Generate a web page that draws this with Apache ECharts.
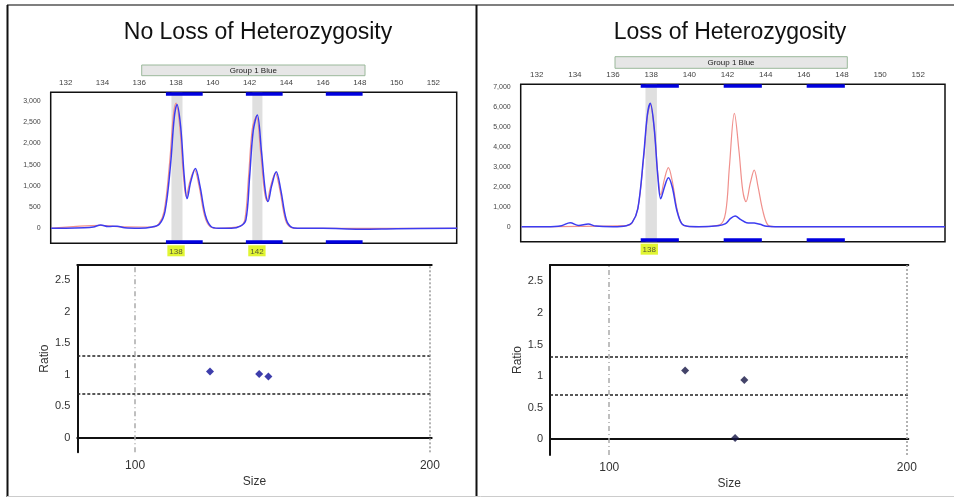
<!DOCTYPE html>
<html><head><meta charset="utf-8">
<script src="https://cdn.jsdelivr.net/npm/echarts@6/dist/echarts.min.js"></script>
<style>html,body{margin:0;padding:0;background:#fff}#c{width:954px;height:500px}</style>
</head><body><div id="c"></div>
<script>
// ---------- data ----------
const traceTicks = [132, 134, 136, 138, 140, 142, 144, 146, 148, 150, 152];
const leftYTicks = [0, 500, 1000, 1500, 2000, 2500, 3000];
const rightYTicks = [0, 1000, 2000, 3000, 4000, 5000, 6000, 7000];

const leftBlue = [[131.2,0],[132,0],[133,10],[133.5,30],[133.9,80],[134.3,40],[134.8,50],[135.2,10],[136,0],[136.7,30],[137.1,100],[137.4,400],[137.7,1500],[137.9,2600],[138.05,2920],[138.25,2400],[138.45,1200],[138.6,700],[138.8,1100],[139.05,1410],[139.3,1000],[139.6,300],[139.9,40],[140.3,0],[141,0],[141.5,50],[141.8,200],[142.0,1200],[142.2,2300],[142.42,2670],[142.65,1800],[142.85,900],[143.0,630],[143.2,1000],[143.45,1330],[143.7,900],[144.0,200],[144.3,20],[144.6,0],[146,0],[148,-20],[150,-10],[153.3,0]];
const leftRed = [[131.2,0],[133.9,70],[134.8,40],[136.7,30],[137.05,100],[137.35,400],[137.65,1550],[137.85,2650],[138.0,2950],[138.2,2400],[138.4,1250],[138.55,750],[138.75,1100],[139.0,1380],[139.25,1000],[139.55,300],[139.85,40],[140.3,0],[141.5,50],[141.75,220],[141.95,1250],[142.15,2350],[142.37,2640],[142.6,1800],[142.8,900],[142.95,650],[143.15,1000],[143.4,1300],[143.65,900],[143.95,200],[144.25,20],[144.6,0],[153.3,0]];
const rightBlue = [[131.2,0],[132.5,0],[133.3,50],[133.75,200],[134.2,60],[134.7,130],[135.1,30],[136,0],[136.7,50],[137.0,200],[137.3,900],[137.6,3500],[137.8,5600],[137.95,6170],[138.15,5000],[138.35,2500],[138.5,1400],[138.7,2000],[138.9,2450],[139.1,2000],[139.35,800],[139.6,150],[139.9,20],[140.5,0],[141.5,50],[141.9,150],[142.15,400],[142.4,530],[142.7,350],[143.0,200],[143.4,180],[143.7,120],[144.05,20],[144.5,0],[153.4,0]];
const rightRed = [[131.2,0],[136.7,50],[137.0,200],[137.3,900],[137.6,3400],[137.8,5500],[137.95,6100],[138.15,5000],[138.35,2600],[138.5,1600],[138.7,2400],[138.9,2950],[139.1,2300],[139.35,900],[139.6,150],[139.9,20],[140.5,0],[141.6,100],[141.9,700],[142.1,3000],[142.36,5670],[142.6,3800],[142.8,1800],[142.97,1250],[143.2,2200],[143.4,2830],[143.6,2000],[143.85,800],[144.1,100],[144.4,0],[153.4,0]];

const binRanges = [[137.45,139.45],[141.8,143.8],[146.15,148.15]];
const leftPeakBands = [[137.75,138.35],[142.15,142.7]];
const rightPeakBands = [[137.7,138.3]];
const leftAlleleLabels = [[138.0,'138'],[142.4,'142']];
const rightAlleleLabels = [[137.9,'138']];

const ratioTicks = [0, 0.5, 1, 1.5, 2, 2.5];
const sizeTicks = [100, 200];
const ratioBounds = [0.7, 1.3];
const sizeGuides = [100, 200];
const leftRatio = [[125.4,1.05],[142.1,1.01],[145.2,0.97]];
const rightRatio = [[125.5,1.09],[142.3,0.02],[145.4,0.94]];

// ---------- chart ----------
const chart = echarts.init(document.getElementById('c'), null, {renderer:'canvas'});
const FONT = 'Liberation Sans, Arial, sans-serif';

const grids = [
  {left:50.7, top:92.3, width:406, height:151},
  {left:520.7, top:84.3, width:424.3, height:157.4},
  {left:77.3, top:265, width:354.4, height:187.3},
  {left:550, top:265, width:358.3, height:190}
];
const traceX = [[131.18,153.27],[131.16,153.4]];
const traceY = [[-354,3205],[-750,7120]];
const ratioX = [[80.4,200.6],[80.1,200.5]];
const ratioY = [[-0.23,2.74],[-0.25,2.76]];

const xAxes = [], yAxes = [], series = [];
[0,1].forEach(i => {
  xAxes.push({gridIndex:i, type:'value', position:'top', min:traceX[i][0], max:traceX[i][1],
    axisLine:{show:false}, axisTick:{show:false}, splitLine:{show:false},
    axisLabel:{customValues:traceTicks, fontSize:8, color:'#444', margin:6, fontFamily:FONT}});
  yAxes.push({gridIndex:i, type:'value', min:traceY[i][0], max:traceY[i][1],
    axisLine:{show:false}, axisTick:{show:false}, splitLine:{show:false},
    axisLabel:{customValues: i===0?leftYTicks:rightYTicks, fontSize:7, color:'#444', margin:10, fontFamily:FONT,
      formatter:v=>v.toLocaleString('en-US')}});
});
[2,3].forEach(i => {
  const k=i-2;
  xAxes.push({gridIndex:i, type:'value', min:ratioX[k][0], max:ratioX[k][1], name:'Size',
    nameLocation:'middle', nameGap:23, nameTextStyle:{fontSize:12, color:'#333', fontFamily:FONT},
    axisLine:{show:true, lineStyle:{color:'#111', width:2}}, axisTick:{show:false}, splitLine:{show:false},
    axisLabel:{customValues:sizeTicks, fontSize:12, color:'#333', margin:7, fontFamily:FONT}});
  yAxes.push({gridIndex:i, type:'value', min:ratioY[k][0], max:ratioY[k][1], name:'Ratio',
    nameLocation:'middle', nameGap:24, nameTextStyle:{fontSize:12, color:'#333', fontFamily:FONT},
    axisLine:{show:true, lineStyle:{color:'#111', width:2}}, axisTick:{show:false}, splitLine:{show:false},
    axisLabel:{customValues:ratioTicks, fontSize:11, color:'#333', margin:7, fontFamily:FONT}});
});
[2,3].forEach(i => {
  const k=i-2;
  xAxes.push({gridIndex:i, type:'value', position:'top', min:ratioX[k][0], max:ratioX[k][1],
    axisLine:{show:true, onZero:false, lineStyle:{color:'#111', width:2}}, axisTick:{show:false},
    axisLabel:{show:false}, splitLine:{show:false}});
});

function binMarks(i){
  const [lo,hi]=traceY[i];
  const inset=(hi-lo)*0.012;
  const d=[];
  binRanges.forEach(([a,b])=>{
    d.push([{coord:[a,hi-inset]},{coord:[b,hi-inset]}]);
    d.push([{coord:[a,lo+inset]},{coord:[b,lo+inset]}]);
  });
  return {silent:true, symbol:['none','none'], label:{show:false},
    lineStyle:{color:'#0000e0', width:3.5, type:'solid'}, emphasis:{disabled:true}, data:d};
}
function bandMarks(bands){
  return {silent:true, itemStyle:{color:'rgba(185,185,185,0.45)'},
    data: bands.map(([a,b])=>[{xAxis:a},{xAxis:b}])};
}

const traces = [[leftRed,leftBlue,leftPeakBands,leftAlleleLabels],[rightRed,rightBlue,rightPeakBands,rightAlleleLabels]];
traces.forEach(([red,blue,bands,labs],i)=>{
  series.push({type:'line', xAxisIndex:i, yAxisIndex:i, data:red, showSymbol:false, smooth:0.35,
    lineStyle:{color:'#f0908c', width:1.2}, z:2, markArea:bandMarks(bands)});
  series.push({type:'line', xAxisIndex:i, yAxisIndex:i, data:blue, showSymbol:false, smooth:0.35,
    lineStyle:{color:'#3c3cf0', width:1.5}, z:3, markLine:binMarks(i)});
  series.push({type:'scatter', xAxisIndex:i, yAxisIndex:i, clip:false, symbolSize:0,
    data: labs.map(([x,t])=>[x, traceY[i][0], t]),
    label:{show:true, position:'bottom', distance:2, formatter:p=>p.data[2], fontSize:8, color:'#333',
      backgroundColor:'#d9f200', padding:[2,2,1,2], fontFamily:FONT}, z:5});
});

[[leftRatio,'#0c0c96'],[rightRatio,'#141444']].forEach(([pts,col],k)=>{
  const i=k+2;
  const ml=[];
  ratioBounds.forEach(v=>ml.push({yAxis:v, lineStyle:{color:'#222', type:[3,2], width:1.5}}));
  ml.push({xAxis:sizeGuides[0], lineStyle:{color:'#aaa', type:[5,3,1,3], width:1.5}});
  ml.push({xAxis:sizeGuides[1], lineStyle:{color:'#999', type:[2,2], width:1.5}});
  series.push({type:'scatter', xAxisIndex:i, yAxisIndex:i, data:pts, symbol:'diamond', symbolSize:8,
    itemStyle:{color:col}, z:5,
    markLine:{silent:true, symbol:['none','none'], label:{show:false}, data:ml}});
});

const graphic = [
  {type:'line', shape:{x1:7, y1:5, x2:954, y2:5}, style:{stroke:'#555', lineWidth:1.5}},
  {type:'line', shape:{x1:7.5, y1:5, x2:7.5, y2:497}, style:{stroke:'#111', lineWidth:2}},
  {type:'line', shape:{x1:476.5, y1:5, x2:476.5, y2:497}, style:{stroke:'#111', lineWidth:2}},
  {type:'line', shape:{x1:7, y1:496.5, x2:954, y2:496.5}, style:{stroke:'#ccc', lineWidth:1}},
  {type:'text', x:258, y:33, style:{text:'No Loss of Heterozygosity', font:'23px '+FONT, fill:'#111', textAlign:'center', textVerticalAlign:'middle'}},
  {type:'text', x:730, y:33, style:{text:'Loss of Heterozygosity', font:'23px '+FONT, fill:'#111', textAlign:'center', textVerticalAlign:'middle'}},
  {type:'rect', shape:{x:141.7, y:65, width:223.3, height:10.7}, style:{fill:'#e6e6e6', stroke:'#9ab89a', lineWidth:1}},
  {type:'text', x:253.3, y:70.5, style:{text:'Group 1 Blue', font:'8px '+FONT, fill:'#222', textAlign:'center', textVerticalAlign:'middle'}},
  {type:'rect', shape:{x:615, y:56.7, width:232.3, height:11.6}, style:{fill:'#e6e6e6', stroke:'#9ab89a', lineWidth:1}},
  {type:'text', x:731, y:62.5, style:{text:'Group 1 Blue', font:'8px '+FONT, fill:'#222', textAlign:'center', textVerticalAlign:'middle'}}
];

chart.setOption({
  animation:false,
  backgroundColor:'#fff',
  textStyle:{fontFamily:FONT},
  grid: grids.map((g,i)=>Object.assign({}, g, i<2 ? {show:true, borderColor:'#111', borderWidth:1.5, backgroundColor:'transparent'} : {})),
  xAxis:xAxes, yAxis:yAxes, series:series, graphic:graphic
});
</script></body></html>
